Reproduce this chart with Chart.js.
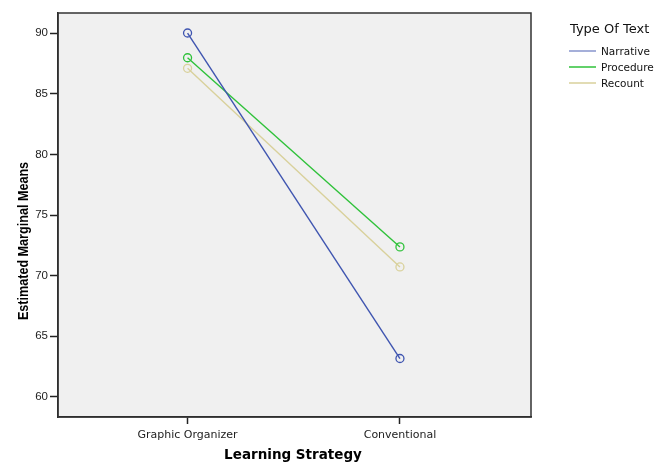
<!DOCTYPE html>
<html>
<head>
<meta charset="utf-8">
<script src="https://cdn.jsdelivr.net/npm/chart.js@4.4.1/dist/chart.umd.min.js"></script>
<style>
  body { margin: 0; background: #fff; }
  #wrap { width: 672px; height: 463px; position: relative; }
</style>
</head>
<body>
<div id="wrap"><canvas id="profile" width="672" height="463"></canvas></div>
<script>
// Estimated marginal means
const strategies = ['Graphic Organizer', 'Conventional'];
const textTypes = ['Narrative', 'Procedure', 'Recount'];
const narrative = [90.0, 63.17];
const procedure = [87.96, 72.37];
const recount = [87.09, 70.72];
const yTicks = [60, 65, 70, 75, 80, 85, 90];

const colors = ['#3f55b0', '#2fc23a', '#d9d19b'];
const legendColors = ['#8795cc', '#2fc23a', '#d9d19b'];

const toPoints = vals => vals.map((v, i) => ({ x: i, y: v }));

// plot background, frame, axis titles and the legend box on the right
const frame = {
    id: 'frame',
    beforeDraw(chart) {
        const { ctx, chartArea: a } = chart;
        ctx.save();
        ctx.fillStyle = '#f0f0f0';
        ctx.fillRect(a.left, a.top, a.right - a.left, a.bottom - a.top);
        ctx.restore();
    },
    afterDraw(chart) {
        const { ctx, chartArea: a } = chart;
        ctx.save();
        ctx.strokeStyle = '#333';
        ctx.lineWidth = 1.5;
        ctx.strokeRect(a.left, a.top, a.right - a.left, a.bottom - a.top);

        ctx.fillStyle = '#000';
        ctx.font = 'bold 13.5px "DejaVu Sans"';
        ctx.textAlign = 'center';
        ctx.textBaseline = 'alphabetic';
        ctx.fillText('Learning Strategy', 293, 459);

        // condensed bold title, squeezed along its length
        ctx.translate(28, 241);
        ctx.rotate(-Math.PI / 2);
        ctx.scale(0.84, 1);
        ctx.font = 'bold 15px "Liberation Sans", Arial, sans-serif';
        ctx.fillText('Estimated Marginal Means', 0, 0);
        ctx.setTransform(1, 0, 0, 1, 0, 0);

        ctx.textAlign = 'left';
        ctx.fillStyle = '#111';
        ctx.font = '13px "DejaVu Sans"';
        ctx.fillText('Type Of Text', 570, 33);
        ctx.font = '10.5px "DejaVu Sans"';
        ctx.textBaseline = 'middle';
        chart.data.datasets.forEach((ds, i) => {
            const y = 51 + i * 16;
            ctx.strokeStyle = legendColors[i];
            ctx.lineWidth = 1.5;
            ctx.beginPath();
            ctx.moveTo(569, y);
            ctx.lineTo(596, y);
            ctx.stroke();
            ctx.fillStyle = '#111';
            ctx.fillText(ds.label, 601, y + 1);
        });
        ctx.restore();
    }
};

const seriesValues = [narrative, procedure, recount];

new Chart(document.getElementById('profile'), {
    type: 'line',
    data: {
        datasets: textTypes.map((name, i) => ({
            label: name,
            data: toPoints(seriesValues[i]),
            borderColor: colors[i],
            borderWidth: 1.4,
            pointRadius: 4,
            pointBorderWidth: 1.3,
            pointBackgroundColor: 'rgba(0,0,0,0)',
            pointBorderColor: colors[i],
            tension: 0
        }))
    },
    options: {
        responsive: false,
        animation: false,
        layout: { padding: { left: 0, top: 13, right: 141, bottom: 0 } },
        plugins: {
            legend: { display: false },
            tooltip: { enabled: false }
        },
        scales: {
            x: {
                type: 'linear',
                min: -0.61,
                max: 1.617,
                afterBuildTicks(scale) {
                    scale.ticks = strategies.map((s, i) => ({ value: i }));
                },
                afterFit(scale) { scale.height = 46; },
                grid: {
                    drawOnChartArea: false,
                    drawTicks: true,
                    tickLength: 7,
                    tickColor: '#222',
                    tickWidth: 1.5
                },
                border: { display: true, color: '#222', width: 1.5 },
                ticks: {
                    padding: 5,
                    color: '#222',
                    maxRotation: 0,
                    font: { family: 'DejaVu Sans', size: 11 },
                    callback: v => strategies[v]
                }
            },
            y: {
                min: 58.35,
                max: 91.65,
                afterBuildTicks(scale) {
                    scale.ticks = yTicks.map(v => ({ value: v }));
                },
                afterFit(scale) { scale.width = 58; },
                grid: {
                    drawOnChartArea: false,
                    drawTicks: true,
                    tickLength: 8,
                    tickColor: '#222',
                    tickWidth: 1.5
                },
                border: { display: true, color: '#222', width: 1.5 },
                ticks: {
                    padding: 2,
                    color: '#222',
                    font: { family: 'Liberation Sans', size: 11.5 }
                }
            }
        }
    },
    plugins: [frame]
});
</script>
</body>
</html>
